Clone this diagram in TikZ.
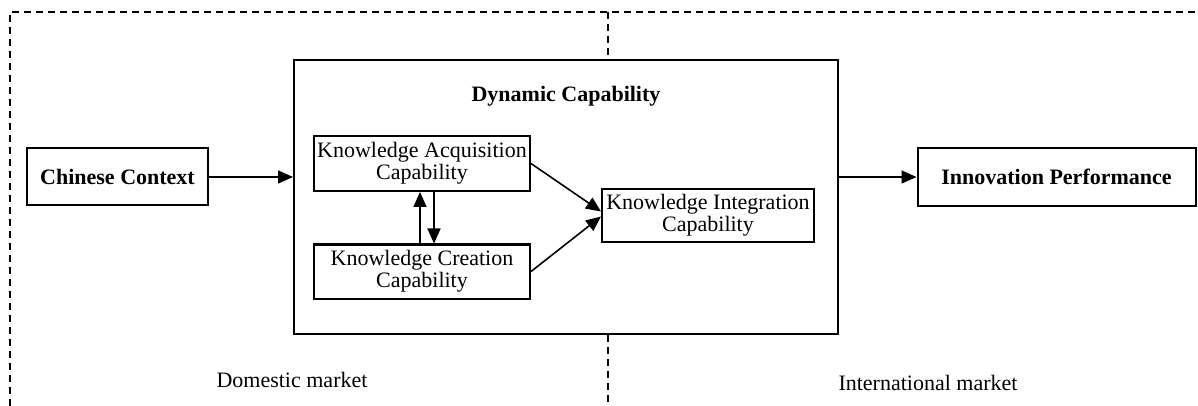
\documentclass[tikz,border=0pt]{standalone}
\usepackage{fontspec}
\setmainfont{Liberation Serif}
\usetikzlibrary{arrows.meta}
\tikzset{
  box/.style={draw,line width=1pt,rectangle,inner sep=0pt,align=center,
    font=\fontsize{11}{10}\selectfont},
  bbox/.style={box,font=\fontsize{11}{10}\selectfont\bfseries},
  arr/.style={-{Triangle[length=7.5pt,width=6.5pt]},line width=0.8pt},
  market/.style={dash pattern=on 3.5pt off 2.5pt,line width=0.8pt}
}
\begin{document}
\begin{tikzpicture}[x=0.5pt,y=-0.5pt]
  \useasboundingbox (0,0) rectangle (1198,406);
  \node[bbox,minimum width=90.5pt,minimum height=28.5pt] (cc) at (117.5,177) {Chinese Context};
  \node[box,minimum width=272pt,minimum height=137pt] (dyn) at (566,197) {};
  \node[font=\fontsize{11}{10}\selectfont\bfseries] (dyntitle) at (566,96) {Dynamic Capability};
  \node[box,minimum width=108pt,minimum height=27.5pt] (acq) at (422,163.5) {Knowledge Acquisition\\Capability};
  \node[box,minimum width=108pt,minimum height=27pt] (cre) at (422,271.5) {Knowledge Creation\\Capability};
  \node[box,minimum width=106pt,minimum height=26.5pt] (integ) at (708,215.5) {Knowledge Integration\\Capability};
  \node[bbox,minimum width=139pt,minimum height=29pt] (ip) at (1056.5,177) {Innovation Performance};
  \node[font=\fontsize{11}{10}\selectfont] (dom) at (292,380) {Domestic market};
  \node[font=\fontsize{11}{10}\selectfont] (intl) at (928,383) {International market};
  \coordinate (tl) at (10,12);
  \coordinate (bl) at (10,406);
  \coordinate (tr) at (1198,12);
  \coordinate (mt) at (608,12);
  \coordinate (mb) at (608,406);
  % market borders
  \draw[market] (bl) -- (tl) -- (tr);
  \draw[market] (mt) -- (mt |- dyn.north);
  \draw[market] (mb |- dyn.south) -- (mb);
  % arrows
  \draw[arr] (cc.east) -- (cc.east -| dyn.west);
  \draw[arr] (dyn.east |- ip.west) -- (ip.west);
  \draw[arr] ([xshift=-1pt]cre.north) -- ([xshift=-1pt]acq.south);
  \draw[arr] ([xshift=6pt]acq.south) -- ([xshift=6pt]cre.north);
  \draw[arr] (acq.east) -- ([yshift=2pt]integ.west);
  \draw[arr] (cre.east) -- ([yshift=-0.5pt]integ.west);
\end{tikzpicture}
\end{document}
